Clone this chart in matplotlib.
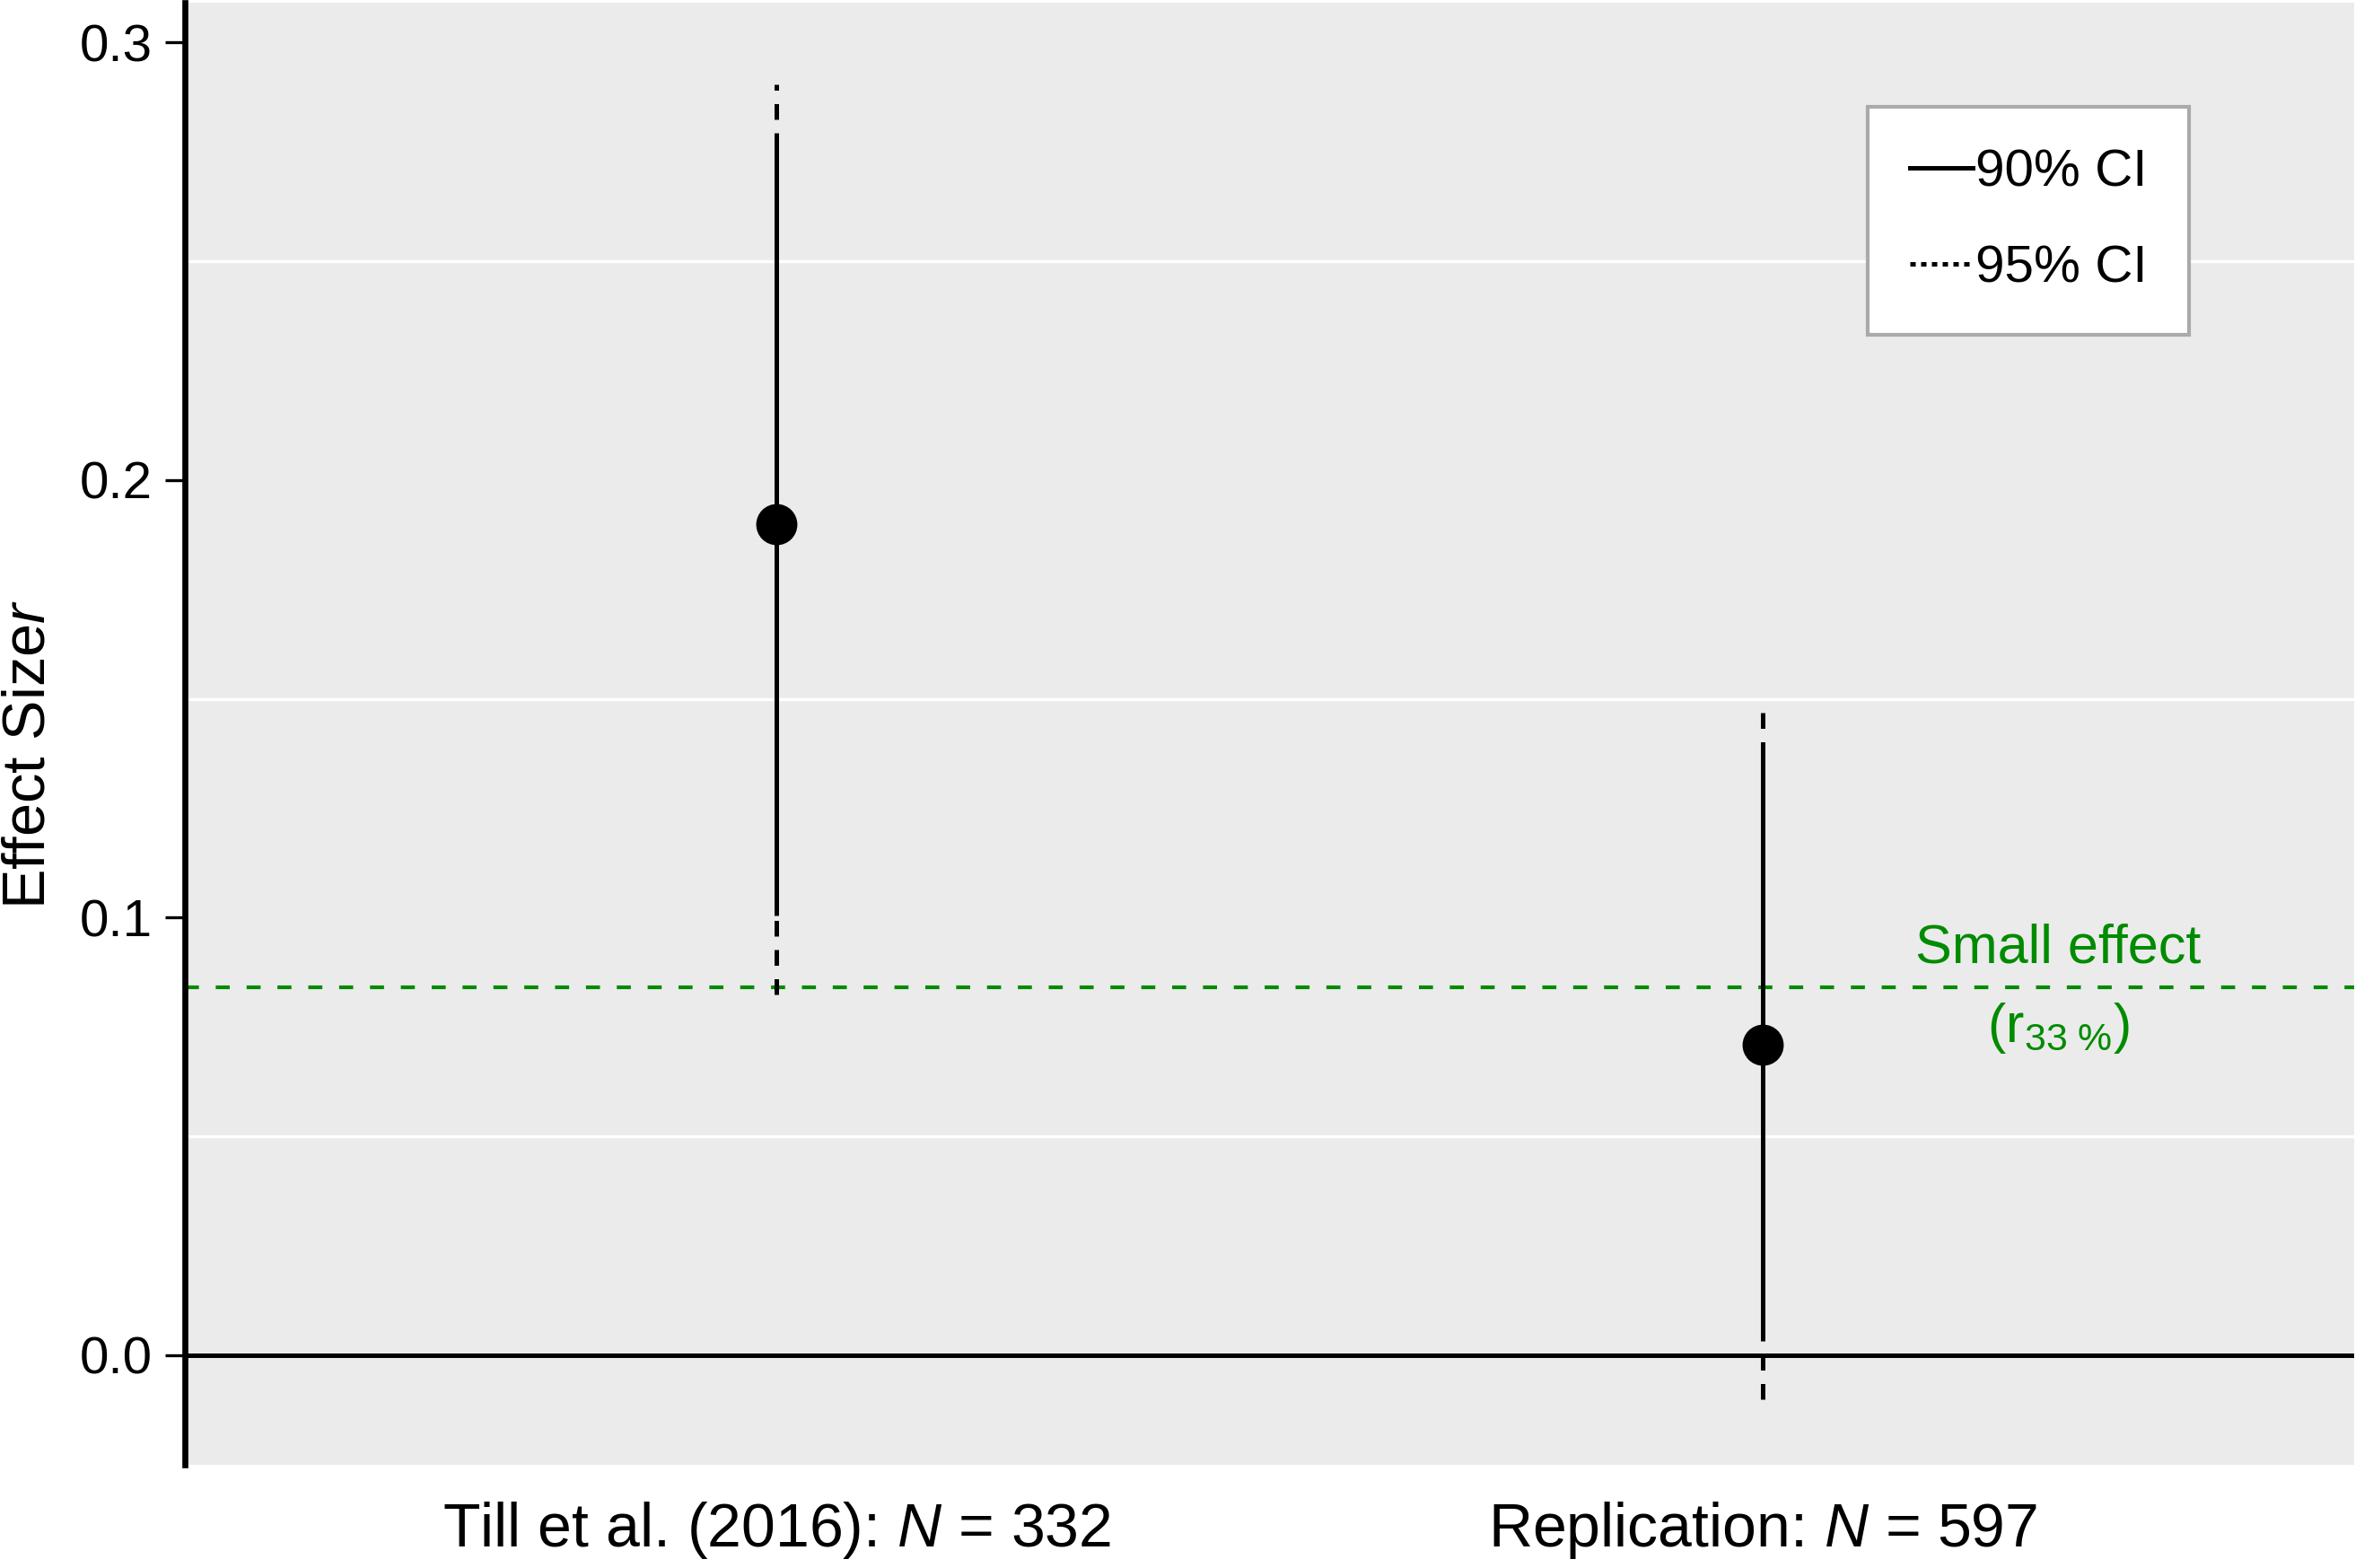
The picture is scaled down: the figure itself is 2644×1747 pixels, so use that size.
import matplotlib
matplotlib.use("Agg")
import matplotlib.pyplot as plt
from matplotlib.lines import Line2D

plt.rcParams['font.family'] = ['Liberation Sans', 'DejaVu Sans']
plt.rcParams['mathtext.fontset'] = 'custom'
plt.rcParams['mathtext.rm'] = 'Liberation Sans'
plt.rcParams['mathtext.it'] = 'Liberation Sans:italic'

# data
studies = ["Till et al. (2016): $\\mathit{N}$ = 332", "Replication: $\\mathit{N}$ = 597"]
estimates = [0.190, 0.071]
ci90_lo = [0.1005, 0.0035]
ci90_hi = [0.277, 0.137]
ci95_lo = [0.0825, -0.0100]
ci95_hi = [0.2905, 0.1495]
small_effect = 0.084
yticks = [0.0, 0.1, 0.2, 0.3]
ytick_labels = ["0.0", "0.1", "0.2", "0.3"]

fig = plt.figure(figsize=(13.22, 8.735), dpi=200)
ax = fig.add_axes([0.078, 0.066, 0.914, 0.932])
ax.set_facecolor("#EBEBEB")

xs = [1, 2]

ax.axhline(0, color="black", lw=1.8, zorder=2)
ax.axhline(small_effect, color="#008B00", lw=1.5, dashes=(3.75, 4.5), zorder=2)

for x, lo, hi in zip(xs, ci95_lo, ci95_hi):
    ax.plot([x, x], [lo, hi], color="black", lw=1.8, dashes=(3.5, 3), zorder=3)
for x, lo, hi in zip(xs, ci90_lo, ci90_hi):
    ax.plot([x, x], [lo, hi], color="black", lw=1.8, solid_capstyle="butt", zorder=4)
ax.plot(xs, estimates, "o", color="black", markersize=15.5, zorder=5, linestyle="none")

ax.text(2.3, small_effect + 0.003, "Small effect", color="#008B00", fontsize=22,
        ha="center", va="bottom")
ax.text(2.3, small_effect - 0.003, "(r$_{\\mathregular{33\\ \\%}}$)", color="#008B00",
        fontsize=22, ha="center", va="top")

ax.set_xlim(0.4, 2.6)
ax.set_ylim(-0.025, 0.309)
ax.set_xticks(xs)
ax.set_xticklabels(studies)
ax.set_yticks(yticks)
ax.set_yticklabels(ytick_labels)
ax.set_yticks([0.05, 0.15, 0.25], minor=True)
ax.grid(which="minor", axis="y", color="white", lw=1.2)
ax.tick_params(axis="y", which="major", length=8, width=1.2, pad=5, color="black",
               labelsize=21)
ax.tick_params(axis="y", which="minor", length=0)
ax.tick_params(axis="x", length=0, pad=14, labelsize=24.5)
ax.set_ylabel("Effect Size$\\mathit{r}$", fontsize=24)
ax.yaxis.set_label_coords(-0.059, 0.486)

for s in ["top", "right", "bottom"]:
    ax.spines[s].set_visible(False)
ax.spines["left"].set_linewidth(2.4)

handles = [Line2D([], [], color="black", lw=1.8),
           Line2D([], [], color="black", lw=1.8, dashes=(1.2, 1.2))]
leg = ax.legend(handles, ["90% CI", "95% CI"], loc="upper right",
                bbox_to_anchor=(0.924, 0.929), fontsize=21, frameon=True,
                fancybox=False, edgecolor="#AAAAAA", facecolor="white",
                framealpha=1, handlelength=1.2, handletextpad=0.05,
                borderpad=0.8, labelspacing=0.9, borderaxespad=0)
leg.get_frame().set_linewidth(1.5)

fig.savefig("out.png", dpi=200)
